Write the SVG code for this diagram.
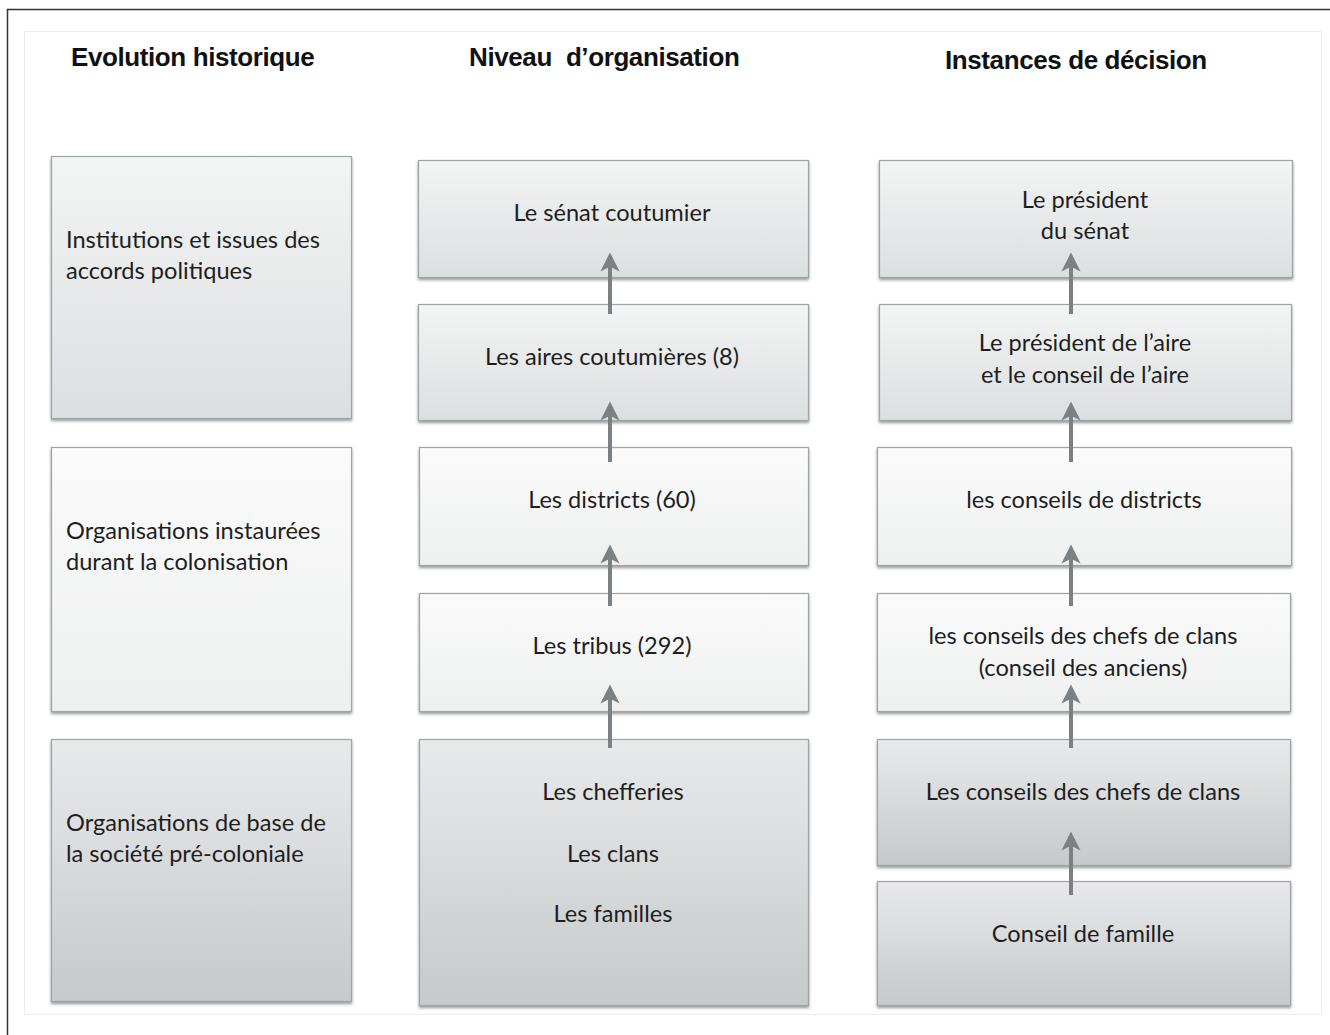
<svg xmlns="http://www.w3.org/2000/svg" width="1330" height="1035" viewBox="0 0 1330 1035">
<style>
.hd{font-family:"Liberation Sans",Arial,sans-serif;font-weight:bold;font-size:26px;fill:#111;letter-spacing:-0.4px}
.t{font-family:Lato,"Open Sans",sans-serif;font-size:23.6px;fill:#1e1e1e}
.c{text-anchor:middle}
.box{stroke:#9fa4a6;stroke-width:1.2;filter:url(#sh)}
.arr{stroke:#7b8083;stroke-width:4;fill:none;marker-end:url(#ah)}
</style>
<defs>
<linearGradient id="gA" x1="0" y1="0" x2="0" y2="1"><stop offset="0" stop-color="#f3f4f4"/><stop offset="1" stop-color="#dcdfe0"/></linearGradient>
<linearGradient id="gB" x1="0" y1="0" x2="0" y2="1"><stop offset="0" stop-color="#fbfbfb"/><stop offset="1" stop-color="#eeefef"/></linearGradient>
<linearGradient id="gC" x1="0" y1="0" x2="0" y2="1"><stop offset="0" stop-color="#e8e9ea"/><stop offset="1" stop-color="#c6cacb"/></linearGradient>
<filter id="sh" x="-5%" y="-5%" width="110%" height="115%"><feDropShadow dx="0" dy="2" stdDeviation="1.5" flood-color="#7d8285" flood-opacity="0.8"/></filter>
<marker id="ah" viewBox="0 0 10 10" refX="5" refY="5" markerWidth="4.8" markerHeight="4.8" orient="auto" markerUnits="strokeWidth"><path d="M0,0 L10,5 L0,10 L2.5,5 Z" fill="#7b8083"/></marker>
</defs>
<rect width="1330" height="1035" fill="#fff"/>
<path d="M7.5,1035 V9.5 H1330" fill="none" stroke="#333" stroke-width="1.5"/>
<rect x="24.5" y="31.5" width="1297" height="983" fill="#fff" stroke="#ececec" stroke-width="1"/>

<g id="headers">
<text class="hd" x="71" y="66">Evolution historique</text>
<text class="hd" x="469" y="66">Niveau<tspan dx="14">d’organisation</tspan></text>
<text class="hd" x="945" y="69">Instances de décision</text>
</g>

<g id="L1"><rect class="box" x="51.5" y="156.5" width="300" height="262" fill="url(#gA)"/>
<text class="t" x="66" y="248">Institutions et issues des</text><text class="t" x="66" y="279">accords politiques</text></g>
<g id="L2"><rect class="box" x="51.5" y="447.5" width="300" height="264" fill="url(#gB)"/>
<text class="t" x="66" y="539">Organisations instaurées</text><text class="t" x="66" y="570">durant la colonisation</text></g>
<g id="L3"><rect class="box" x="51.5" y="739.5" width="300" height="262" fill="url(#gC)"/>
<text class="t" x="66" y="831">Organisations de base de</text><text class="t" x="66" y="862">la société pré-coloniale</text></g>

<g id="M1"><rect class="box" x="418.5" y="160.5" width="390" height="117" fill="url(#gA)"/>
<text class="t c" x="612" y="221">Le sénat coutumier</text></g>
<g id="M2"><rect class="box" x="418.5" y="304.5" width="390" height="116" fill="url(#gA)"/>
<text class="t c" x="612" y="365">Les aires coutumières (8)</text></g>
<g id="M3"><rect class="box" x="419.5" y="447.5" width="389" height="118" fill="url(#gB)"/>
<text class="t c" x="612" y="508">Les districts (60)</text></g>
<g id="M4"><rect class="box" x="419.5" y="593.5" width="389" height="118" fill="url(#gB)"/>
<text class="t c" x="612" y="654">Les tribus (292)</text></g>
<g id="M5"><rect class="box" x="419.5" y="739.5" width="389" height="266" fill="url(#gC)"/>
<text class="t c" x="613" y="800">Les chefferies</text><text class="t c" x="613" y="862">Les clans</text><text class="t c" x="613" y="922">Les familles</text></g>

<g id="R1"><rect class="box" x="879.5" y="160.5" width="413" height="117" fill="url(#gA)"/>
<text class="t c" x="1085" y="208">Le président</text><text class="t c" x="1085" y="239">du sénat</text></g>
<g id="R2"><rect class="box" x="879.5" y="304.5" width="412" height="116" fill="url(#gA)"/>
<text class="t c" x="1085" y="351">Le président de l’aire</text><text class="t c" x="1085" y="383">et le conseil de l’aire</text></g>
<g id="R3"><rect class="box" x="877.5" y="447.5" width="414" height="118" fill="url(#gB)"/>
<text class="t c" x="1084" y="508">les conseils de districts</text></g>
<g id="R4"><rect class="box" x="877.5" y="593.5" width="413" height="118" fill="url(#gB)"/>
<text class="t c" x="1083" y="644">les conseils des chefs de clans</text><text class="t c" x="1083" y="676">(conseil des anciens)</text></g>
<g id="R5"><rect class="box" x="877.5" y="739.5" width="413" height="126" fill="url(#gC)"/>
<text class="t c" x="1083" y="800">Les conseils des chefs de clans</text></g>
<g id="R6"><rect class="box" x="877.5" y="881.5" width="413" height="124" fill="url(#gC)"/>
<text class="t c" x="1083" y="942">Conseil de famille</text></g>

<g id="connectors">
<line class="arr" x1="610" y1="314" x2="610" y2="262"/>
<line class="arr" x1="610" y1="462" x2="610" y2="411"/>
<line class="arr" x1="610" y1="606" x2="610" y2="554"/>
<line class="arr" x1="610" y1="748" x2="610" y2="694"/>
<line class="arr" x1="1071" y1="314" x2="1071" y2="262"/>
<line class="arr" x1="1071" y1="462" x2="1071" y2="411"/>
<line class="arr" x1="1071" y1="606" x2="1071" y2="554"/>
<line class="arr" x1="1071" y1="748" x2="1071" y2="694"/>
<line class="arr" x1="1071" y1="895" x2="1071" y2="841"/>
</g>
</svg>
